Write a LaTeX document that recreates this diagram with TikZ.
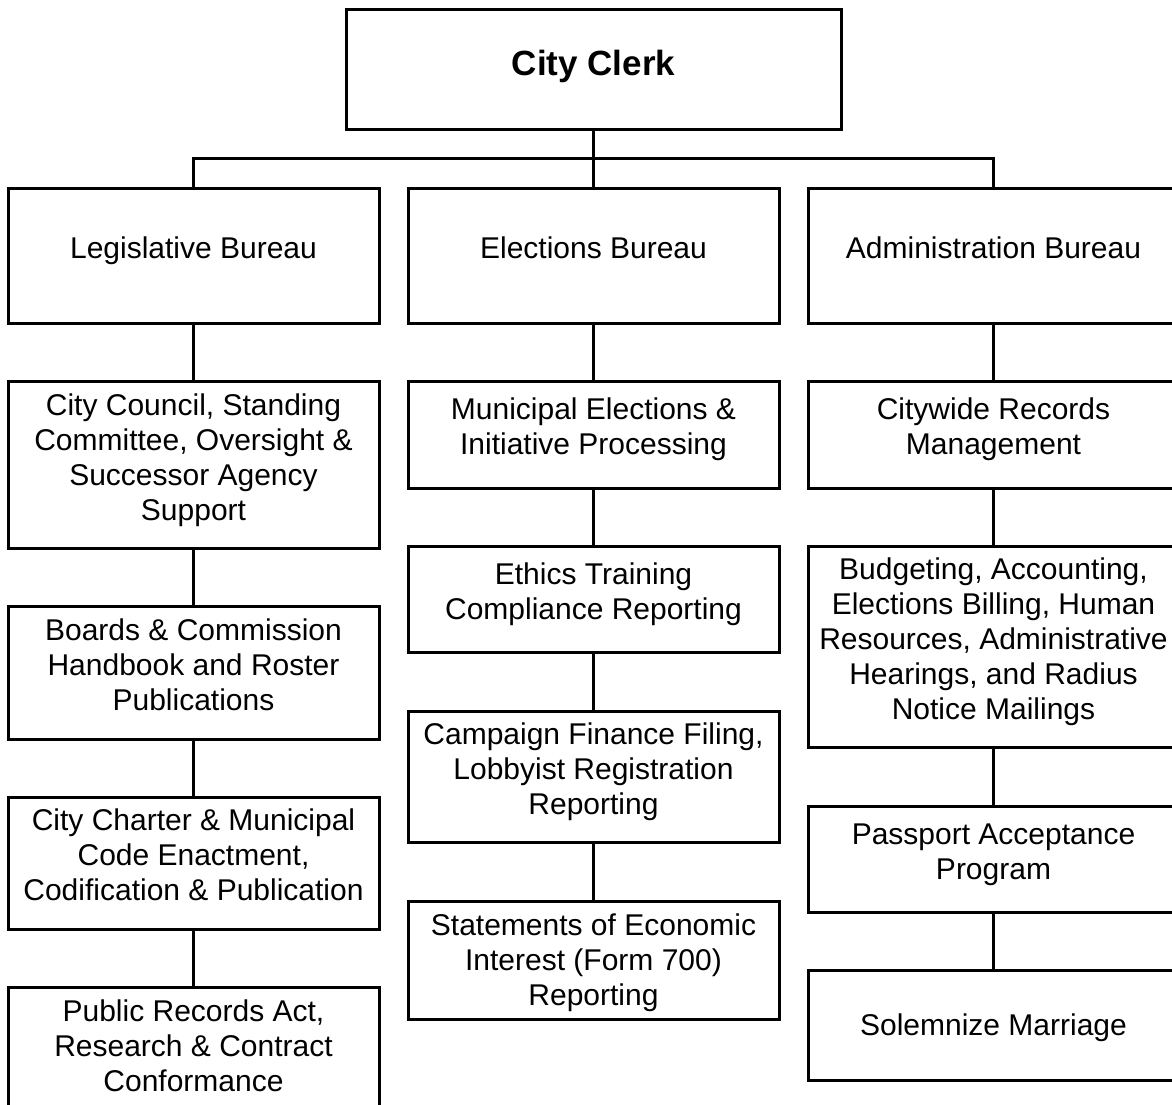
\documentclass[tikz,border=0pt]{standalone}
\usepackage{fontspec}
\setmainfont{Liberation Sans}
% text block of a box: lines centred, one row per line
\newcommand{\ml}[1]{\begin{tabular}{@{}c@{}}#1\end{tabular}}
% same, drawn #1 higher inside its box (box size unchanged)
\newcommand{\mlsh}[2]{\raisebox{#1}[\height][\depth]{\ml{#2}}}
\begin{document}
\begin{tikzpicture}[x=1pt,y=-1pt,
  box/.style={draw=black, line width=3pt, fill=white, inner sep=2pt,
    font=\fontsize{30}{35}\selectfont},
  conn/.style={draw=black, line width=3pt}]
\useasboundingbox (0,0) rectangle (1172,1104);
% top
\node[box, minimum width=495pt, minimum height=120pt, font=\fontsize{35}{40}\selectfont\bfseries] (clerk) at (593.5,69) {\mlsh{1.5pt}{City Clerk}};
% row 1
\node[box, minimum width=371pt, minimum height=135pt] (leg) at (193.5,255.5) {\mlsh{4pt}{Legislative Bureau}};
\node[box, minimum width=371pt, minimum height=135pt] (ele) at (593.5,255.5) {\mlsh{4pt}{Elections Bureau}};
\node[box, minimum width=371pt, minimum height=135pt] (adm) at (993.5,255.5) {\mlsh{4pt}{Administration Bureau}};
% left column
\node[box, minimum width=371pt, minimum height=167pt] (l2) at (193.5,464.5) {\mlsh{4pt}{City Council, Standing\\Committee, Oversight \&\\Successor Agency\\Support}};
\node[box, minimum width=371pt, minimum height=133pt] (l3) at (193.5,672.5) {\mlsh{4pt}{Boards \& Commission\\Handbook and Roster\\Publications}};
\node[box, minimum width=371pt, minimum height=132pt] (l4) at (193.5,863) {\mlsh{5pt}{City Charter \& Municipal\\Code Enactment,\\Codification \& Publication}};
\node[box, minimum width=371pt, minimum height=128pt] (l5) at (193.5,1051) {\mlsh{1.5pt}{Public Records Act,\\Research \& Contract\\Conformance}};
% middle column
\node[box, minimum width=371pt, minimum height=107pt] (m2) at (593.5,434.5) {\mlsh{5pt}{Municipal Elections \&\\Initiative Processing}};
\node[box, minimum width=371pt, minimum height=106pt] (m3) at (593.5,599) {\mlsh{4pt}{Ethics Training\\Compliance Reporting}};
\node[box, minimum width=371pt, minimum height=131pt] (m4) at (593.5,776.5) {\mlsh{4pt}{Campaign Finance Filing,\\Lobbyist Registration\\Reporting}};
\node[box, minimum width=371pt, minimum height=118pt] (m5) at (593.5,960) {\mlsh{-3.5pt}{Statements of Economic\\Interest (Form 700)\\Reporting}};
% right column
\node[box, minimum width=371pt, minimum height=107pt] (r2) at (993.5,434.5) {\mlsh{5pt}{Citywide Records\\Management}};
\node[box, minimum width=371pt, minimum height=201pt] (r3) at (993.5,646.5) {\mlsh{4pt}{Budgeting, Accounting,\\Elections Billing, Human\\Resources, Administrative\\Hearings, and Radius\\Notice Mailings}};
\node[box, minimum width=371pt, minimum height=106pt] (r4) at (993.5,859) {\mlsh{4pt}{Passport Acceptance\\Program}};
\node[box, minimum width=371pt, minimum height=110pt] (r5) at (993.5,1025) {\mlsh{-3.5pt}{Solemnize Marriage}};
% connectors
\coordinate (bus) at (593.5,158);
\draw[conn] (clerk.south) -- (ele.north);
\draw[conn] (leg.north) |- (bus) -| (adm.north);
\draw[conn] (leg.south) -- (l2.north);
\draw[conn] (l2.south) -- (l3.north);
\draw[conn] (l3.south) -- (l4.north);
\draw[conn] (l4.south) -- (l5.north);
\draw[conn] (ele.south) -- (m2.north);
\draw[conn] (m2.south) -- (m3.north);
\draw[conn] (m3.south) -- (m4.north);
\draw[conn] (m4.south) -- (m5.north);
\draw[conn] (adm.south) -- (r2.north);
\draw[conn] (r2.south) -- (r3.north);
\draw[conn] (r3.south) -- (r4.north);
\draw[conn] (r4.south) -- (r5.north);
\end{tikzpicture}
\end{document}
